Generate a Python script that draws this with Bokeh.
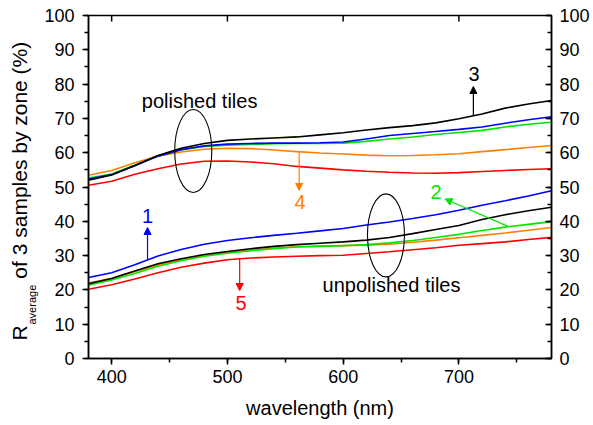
import math
from bokeh.plotting import figure
from bokeh.models import Range1d, LinearAxis, Label, Arrow, NormalHead, FixedTicker, Title
from bokeh.embed import file_html
from bokeh.resources import INLINE

wavelength = [380, 400, 420, 440, 460, 480, 500, 520, 540, 560, 580, 600, 620, 640, 660, 680, 700, 720, 740, 760, 780]

pol_black = [52.0, 53.5, 56.3, 59.2, 61.3, 62.7, 63.6, 64.0, 64.3, 64.6, 65.2, 65.8, 66.6, 67.3, 67.9, 68.7, 69.9, 71.3, 73.0, 74.2, 75.2]
pol_blue = [52.3, 53.6, 56.2, 59.0, 60.9, 62.0, 62.5, 62.7, 62.8, 62.8, 62.9, 63.1, 64.0, 65.0, 65.6, 66.2, 66.8, 67.5, 68.6, 69.6, 70.5]
pol_green = [52.6, 53.8, 56.4, 59.0, 60.8, 61.8, 62.2, 62.4, 62.6, 62.7, 62.7, 62.8, 63.3, 64.0, 64.6, 65.3, 65.9, 66.5, 67.5, 68.3, 68.9]
pol_orange = [53.4, 54.8, 57.1, 59.0, 60.2, 61.0, 61.3, 61.2, 60.8, 60.3, 59.9, 59.6, 59.3, 59.1, 59.2, 59.4, 59.7, 60.3, 60.9, 61.5, 62.1]
pol_red = [50.5, 51.7, 53.7, 55.3, 56.7, 57.5, 57.6, 57.3, 56.8, 56.0, 55.5, 55.0, 54.6, 54.3, 54.1, 54.0, 54.2, 54.5, 54.8, 55.1, 55.3]

unp_blue = [23.6, 25.0, 27.3, 29.9, 31.8, 33.3, 34.4, 35.2, 35.9, 36.5, 37.2, 37.9, 38.9, 39.8, 40.8, 41.9, 43.2, 44.7, 46.0, 47.4, 48.9]
unp_black = [21.8, 23.3, 25.5, 27.6, 29.1, 30.3, 31.2, 32.0, 32.7, 33.2, 33.6, 34.0, 34.5, 35.3, 36.4, 37.6, 38.8, 40.5, 41.9, 43.1, 44.1]
unp_green = [21.4, 22.9, 24.8, 26.9, 28.5, 29.8, 30.7, 31.4, 32.0, 32.5, 32.7, 32.9, 33.2, 33.7, 34.4, 35.3, 36.2, 37.3, 38.3, 39.1, 39.9]
unp_orange = [22.0, 23.4, 25.4, 27.3, 28.8, 30.0, 30.9, 31.6, 32.2, 32.6, 32.8, 32.9, 33.0, 33.3, 33.9, 34.5, 35.2, 35.9, 36.6, 37.4, 38.2]
unp_red = [20.2, 21.5, 23.2, 25.0, 26.6, 27.8, 28.8, 29.3, 29.6, 29.8, 30.0, 30.1, 30.6, 31.1, 31.7, 32.3, 33.0, 33.5, 34.0, 34.7, 35.3]

x_major = [400, 500, 600, 700]
x_minor = [400, 450, 500, 550, 600, 650, 700, 750]
y_major = list(range(0, 101, 10))
y_minor = list(range(0, 101, 5))

x_title = "wavelength (nm)"
y_title_main = "R" + "\u00a0" * 8 + "of 3 samples by zone (%)"
y_title_sub = "average"

BLACK = "#000000"
BLUE = "#0000ff"
GREEN = "#00e600"
ORANGE = "#ff8000"
RED = "#ff0000"
FONT = "Liberation Sans"

p = figure(frame_width=463, frame_height=343,
           x_range=Range1d(380, 780), y_range=Range1d(0, 100),
           output_backend="svg", toolbar_location=None,
           min_border_left=88, min_border_top=15, min_border_right=40, min_border_bottom=60)
p.xgrid.grid_line_color = None
p.ygrid.grid_line_color = None
p.outline_line_color = BLACK
p.outline_line_width = 1.5
p.background_fill_color = "white"

def style_axis(ax, inward):
    ax.axis_line_color = BLACK
    ax.axis_line_width = 1.5
    ax.major_tick_line_color = BLACK
    ax.major_tick_line_width = 1.5
    ax.minor_tick_line_color = BLACK
    ax.minor_tick_line_width = 1.5
    if inward:
        ax.major_tick_in, ax.major_tick_out = 6, 0
        ax.minor_tick_in, ax.minor_tick_out = 4, 0
    else:
        ax.major_tick_in, ax.major_tick_out = 0, 6
        ax.minor_tick_in, ax.minor_tick_out = 0, 4
    ax.major_label_text_font = FONT
    ax.major_label_text_font_size = "18px"
    ax.major_label_text_color = BLACK

xb = p.xaxis[0]
xb.ticker = FixedTicker(ticks=x_major, minor_ticks=x_minor)
style_axis(xb, inward=False)
xb.major_label_standoff = 5
xb.axis_label = x_title
xb.axis_label_text_font = FONT
xb.axis_label_text_font_size = "20px"
xb.axis_label_text_font_style = "normal"
xb.axis_label_text_color = BLACK
xb.axis_label_standoff = 11

yl = p.yaxis[0]
yl.ticker = FixedTicker(ticks=y_major, minor_ticks=y_minor)
style_axis(yl, inward=False)
yl.major_label_standoff = 8

# y title: subscript panel next to the axis, main text further out
t_sub = Title(text=y_title_sub, text_font=FONT, text_font_size="11px", text_font_style="normal",
              text_color=BLACK, align="left", offset=34, standoff=8, vertical_align="bottom")
p.add_layout(t_sub, "left")
t_main = Title(text=y_title_main, text_font=FONT, text_font_size="21px", text_font_style="normal",
               text_color=BLACK, align="left", offset=18, standoff=-22, vertical_align="bottom")
p.add_layout(t_main, "left")

yr = LinearAxis(ticker=FixedTicker(ticks=y_major, minor_ticks=y_minor))
style_axis(yr, inward=True)
yr.major_label_standoff = 8
p.add_layout(yr, "right")

# top frame ticks (inward)
p.scatter(x=x_major, y=[p.y_range.end] * len(x_major), marker="dash", angle=math.pi / 2,
          size=12, line_color=BLACK, line_width=1.5)

# curves
for ys, c in [(pol_red, RED), (pol_orange, ORANGE), (pol_green, GREEN), (pol_blue, BLUE), (pol_black, BLACK),
              (unp_red, RED), (unp_orange, ORANGE), (unp_green, GREEN), (unp_blue, BLUE), (unp_black, BLACK)]:
    p.line(wavelength, ys, line_color=c, line_width=1.6)

# ellipses
p.ellipse(x=[470.5, 637.0], y=[60.5, 35.9], width=[32, 32], height=[24.2, 24.2],
          fill_color=None, line_color=BLACK, line_width=1.1)

# arrows
def arrow(x0, y0, x1, y1, c):
    p.add_layout(Arrow(x_start=x0, y_start=y0, x_end=x1, y_end=y1, line_color=c, line_width=1.2,
                       end=NormalHead(size=7, fill_color=c, line_color=c, line_width=1)))

arrow(712.5, 70.8, 712.5, 79.3, BLACK)
arrow(562.0, 60.2, 562.0, 49.0, ORANGE)
arrow(431.0, 28.8, 431.0, 38.2, BLUE)
arrow(510.6, 29.3, 510.6, 19.8, RED)
arrow(742.0, 38.6, 688.0, 46.5, GREEN)

def text(x, y, s, c=BLACK, size="20px"):
    p.add_layout(Label(x=x, y=y, text=s, text_color=c, text_font=FONT, text_font_size=size,
                       text_align="center", text_baseline="middle"))

text(476.0, 75.1, "polished tiles")
text(641.8, 21.3, "unpolished tiles")
text(713.0, 82.8, "3")
text(562.7, 45.7, "4", ORANGE)
text(431.1, 41.6, "1", BLUE)
text(511.7, 16.3, "5", RED)
text(680.2, 48.4, "2", GREEN)

open("out.html", "w").write(file_html(p, INLINE))
